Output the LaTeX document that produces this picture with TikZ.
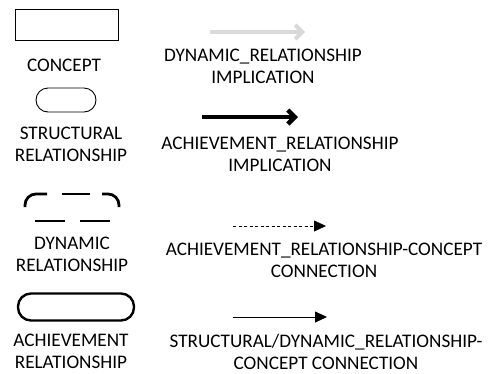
\documentclass[tikz,border=0pt]{standalone}
\usepackage{fontspec}
\setmainfont{Carlito}
\usetikzlibrary{arrows.meta}
\begin{document}
\begin{tikzpicture}[x=1pt,y=-1pt,
  lbl/.style={align=center,inner sep=0pt,font=\fontsize{19.2}{22}\selectfont},
  thinbox/.style={draw,line width=0.9pt},
  dyndash/.style={line width=2.8pt},
  bigarrow/.style={line width=4pt,-{Straight Barb[length=7pt,width=14pt]}},
  smallarrow/.style={line width=0.8pt,-{Triangle[length=12pt,width=11pt]}}]
\useasboundingbox (0,0) rectangle (492,373);
% left legend shapes
\node[thinbox,minimum width=103pt,minimum height=31pt,inner sep=0pt] (concept) at (66.5,24.5) {};
\node[lbl] (tconcept) at (64,65) {CONCEPT};
\node[thinbox,rounded corners=12pt,minimum width=60pt,minimum height=24pt,inner sep=0pt] (struct) at (66,100) {};
\node[lbl] (tstruct) at (71,144) {STRUCTURAL\\RELATIONSHIP};
% dynamic relationship (dashed rounded)
\coordinate (dyn) at (72,207.5);
\draw[dyndash] (25,207) -- (25,205) arc[start angle=180,end angle=270,radius=11] -- (47,194);
\draw[dyndash] (62,194) -- (90,194);
\draw[dyndash] (102,194) -- (108,194) arc[start angle=270,end angle=360,radius=11] -- (119,207);
\draw[dyndash] (35,221) -- (65,221);
\draw[dyndash] (80,221) -- (110,221);
\node[lbl] (tdyn) at (72,254) {DYNAMIC\\RELATIONSHIP};
\node[draw,line width=2.4pt,rounded corners=13pt,minimum width=116pt,minimum height=27pt,inner sep=0pt] (ach) at (76,307) {};
\node[lbl] (tach) at (71,351.5) {ACHIEVEMENT\\RELATIONSHIP};
% right legend arrows
\coordinate (a1s) at (210,32); \coordinate (a1e) at (305,32);
\draw[bigarrow,draw=black!15] (a1s) -- (a1e);
\node[lbl] (t1) at (263,66) {DYNAMIC\_RELATIONSHIP\\IMPLICATION};
\coordinate (a2s) at (202,117); \coordinate (a2e) at (298,117);
\draw[bigarrow,line width=4.5pt] (a2s) -- (a2e);
\node[lbl] (t2) at (280,154) {ACHIEVEMENT\_RELATIONSHIP\\IMPLICATION};
\coordinate (a3s) at (233,226); \coordinate (a3e) at (326,226);
\draw[smallarrow,dash pattern=on 3pt off 2.5pt] (a3s) -- (a3e);
\node[lbl] (t3) at (324,260) {ACHIEVEMENT\_RELATIONSHIP-CONCEPT\\CONNECTION};
\coordinate (a4s) at (233,317); \coordinate (a4e) at (327,317);
\draw[smallarrow] (a4s) -- (a4e);
\node[lbl] (t4) at (326,351.5) {STRUCTURAL/DYNAMIC\_RELATIONSHIP-\\CONCEPT CONNECTION};
\end{tikzpicture}
\end{document}
